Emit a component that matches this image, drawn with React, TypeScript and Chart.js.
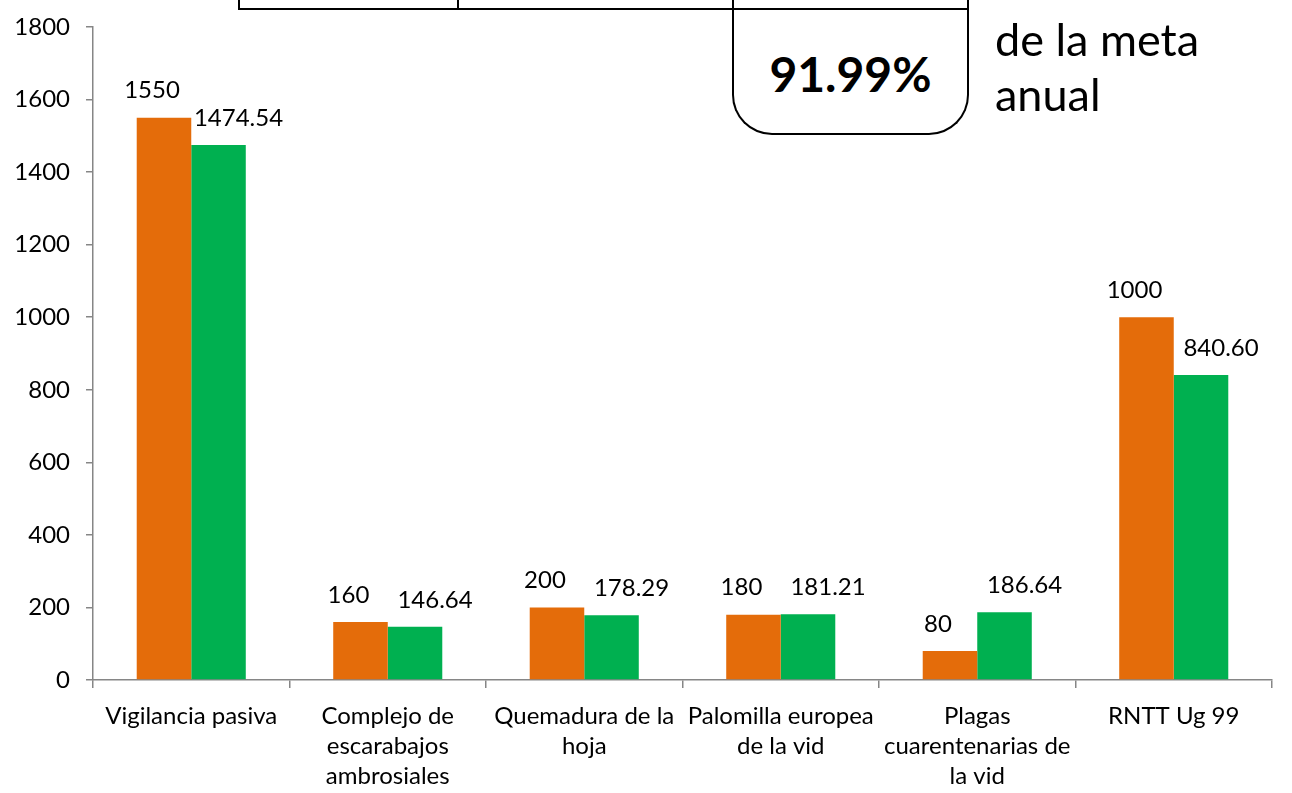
import React, { useEffect, useRef } from "react";
import { Chart, registerables } from "chart.js";

Chart.register(...registerables);

const categories: (string | string[])[] = [
  "Vigilancia pasiva",
  ["Complejo de", "escarabajos", "ambrosiales"],
  ["Quemadura de la", "hoja"],
  ["Palomilla europea", "de la vid"],
  ["Plagas", "cuarentenarias de", "la vid"],
  "RNTT Ug 99",
];
const metaValues = [1550, 160, 200, 180, 80, 1000];
const realValues = [1474.54, 146.64, 178.29, 181.21, 186.64, 840.6];
const yTicks = [0, 200, 400, 600, 800, 1000, 1200, 1400, 1600, 1800];
const percentText = "91.99%";
const sideText = ["de la meta", "anual"];

const FONT = "Lato, 'Open Sans', sans-serif";

const labelPlugin = {
  id: "valueLabels",
  afterDatasetsDraw(chart: any) {
    const ctx = chart.ctx;
    ctx.save();
    ctx.font = `24px ${FONT}`;
    ctx.fillStyle = "#000";
    ctx.textAlign = "center";
    ctx.textBaseline = "middle";
    chart.data.datasets.forEach((ds: any, di: number) => {
      const meta = chart.getDatasetMeta(di);
      const dx = di === 0 ? -12 : 20;
      meta.data.forEach((el: any, i: number) => {
        const v = ds.data[i];
        const txt = di === 0 ? String(v) : v.toFixed(2);
        ctx.fillText(txt, el.x + dx, el.y - 27);
      });
    });
    ctx.restore();
  },
};

export default function App() {
  const ref = useRef<HTMLCanvasElement>(null);
  useEffect(() => {
    document.body.style.margin = "0";
    const chart = new Chart(ref.current!, {
      type: "bar",
      data: {
        labels: categories,
        datasets: [
          {
            label: "Meta",
            data: metaValues,
            backgroundColor: "#E46C0A",
            borderWidth: 0,
            categoryPercentage: 0.555,
            barPercentage: 1,
          },
          {
            label: "Real",
            data: realValues,
            backgroundColor: "#00B050",
            borderWidth: 0,
            categoryPercentage: 0.555,
            barPercentage: 1,
          },
        ],
      },
      options: {
        animation: false,
        responsive: false,
        maintainAspectRatio: false,
        layout: { padding: { top: 27, right: 20, left: 0, bottom: 0 } },
        plugins: {
          legend: { display: false },
          tooltip: { enabled: false },
        },
        scales: {
          x: {
            grid: {
              offset: true,
              drawOnChartArea: false,
              drawTicks: true,
              tickLength: 8,
              color: "#868686",
              lineWidth: 1.5,
            },
            border: { color: "#868686", width: 1.5 },
            ticks: {
              color: "#000",
              font: { family: FONT, size: 24, lineHeight: 1.25 },
              padding: 13,
              maxRotation: 0,
              minRotation: 0,
              autoSkip: false,
            },
            afterFit(scale: any) {
              scale.height = 113;
            },
          },
          y: {
            min: 0,
            max: 1800,
            afterBuildTicks(scale: any) {
              scale.ticks = yTicks.map((v) => ({ value: v }));
            },
            grid: {
              drawOnChartArea: false,
              drawTicks: true,
              tickLength: 7,
              color: "#868686",
              lineWidth: 1.5,
            },
            border: { color: "#868686", width: 1.5 },
            ticks: {
              color: "#000",
              font: { family: FONT, size: 24, lineHeight: 1 },
              padding: 16,
              callback: (v: any) => String(v),
            },
            afterFit(scale: any) {
              scale.width = 93;
              scale.paddingTop = 0;
              scale.paddingBottom = 0;
            },
          },
        },
      },
      plugins: [labelPlugin],
    });
    return () => chart.destroy();
  }, []);

  return (
    <div style={{ position: "relative", width: 1292, height: 793, overflow: "hidden", background: "#fff" }}>
      <canvas ref={ref} width={1292} height={793} style={{ display: "block" }} />
      <div
        style={{
          position: "absolute",
          left: 238,
          top: -20,
          width: 730,
          height: 30,
          borderLeft: "2.5px solid #000",
          borderRight: "2.5px solid #000",
          borderBottom: "2.5px solid #000",
          boxSizing: "border-box",
        }}
      />
      <div style={{ position: "absolute", left: 457, top: 0, width: 0, height: 10, borderLeft: "2px solid #000" }} />
      <div
        style={{
          position: "absolute",
          left: 732,
          top: 0,
          width: 237,
          height: 135,
          border: "2.5px solid #000",
          borderTop: "none",
          borderRadius: "0 0 40px 40px",
          boxSizing: "border-box",
          background: "#fff",
          display: "flex",
          alignItems: "center",
          justifyContent: "center",
          paddingTop: 14,
          fontFamily: FONT,
          fontWeight: 700,
          fontSize: 48,
          color: "#000",
        }}
      >
        {percentText}
      </div>
      <div
        style={{
          position: "absolute",
          left: 732,
          top: 8,
          width: 237,
          height: 0,
          borderTop: "2.5px solid #000",
        }}
      />
      <div
        style={{
          position: "absolute",
          left: 995,
          top: 12,
          fontFamily: FONT,
          fontSize: 45,
          lineHeight: "55px",
          color: "#000",
        }}
      >
        {sideText.map((t, i) => (
          <div key={i}>{t}</div>
        ))}
      </div>
    </div>
  );
}
